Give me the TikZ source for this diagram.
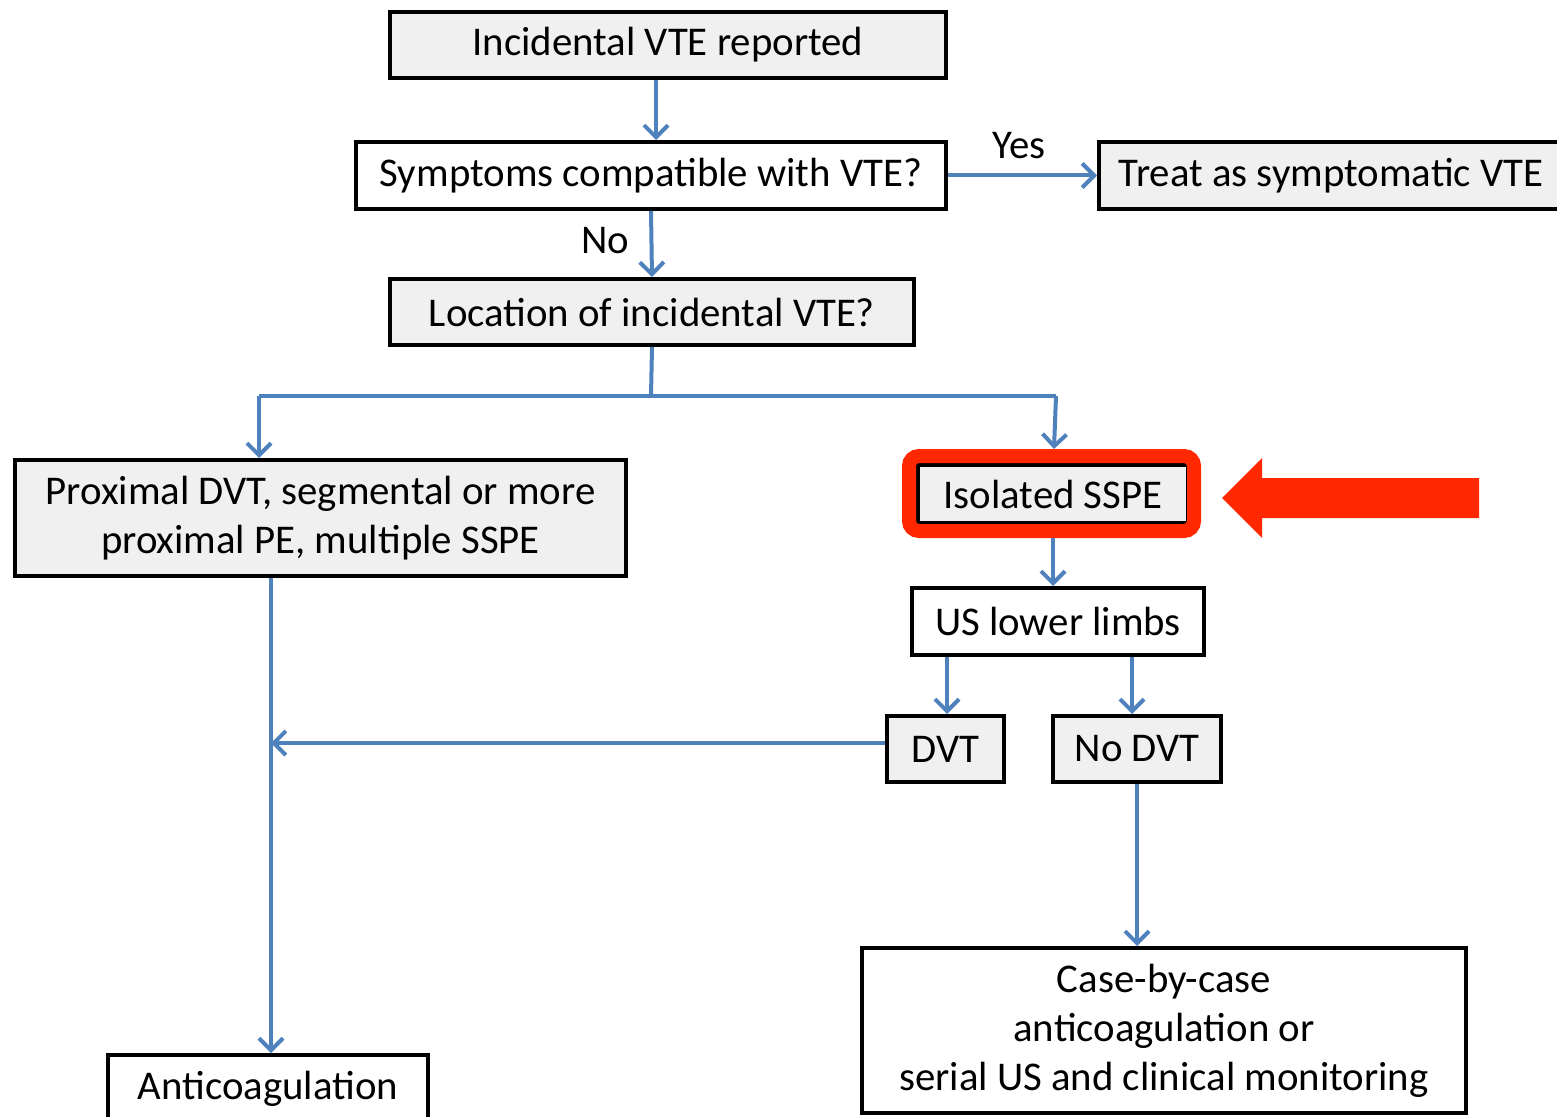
\documentclass[tikz,border=0pt]{standalone}
\usepackage{fontspec}
\setmainfont{Carlito}
\usetikzlibrary{arrows.meta}
\definecolor{boxgrey}{RGB}{240,240,240}
\definecolor{connblue}{RGB}{79,129,189}
\definecolor{hlred}{RGB}{255,40,0}
\tikzset{
  box/.style={draw=black, line width=2pt, inner sep=0pt, align=center,
    font=\fontsize{20.4}{24.5}\selectfont},
  greybox/.style={box, fill=boxgrey},
  whitebox/.style={box, fill=white},
  conn/.style={draw=connblue, line width=2pt},
  arr/.style={conn, -{Straight Barb[length=6pt,width=12pt,line width=2pt]}},
  lbl/.style={font=\fontsize{20.4}{24.5}\selectfont, inner sep=0pt},
}
\begin{document}
\begin{tikzpicture}[x=0.5pt,y=-0.5pt]
\useasboundingbox (0,0) rectangle (1557,1117);
\begin{scope}
\clip (0,0) rectangle (1557,1117);
\node[greybox, minimum width=278pt, minimum height=33pt] (inc) at (668,45) {Incidental VTE reported};
\node[whitebox, minimum width=295pt, minimum height=33.5pt] (sym) at (651,175.5) {Symptoms compatible with VTE?};
\node[greybox, minimum width=232pt, minimum height=33.5pt] (treat) at (1331,175.5) {Treat as symptomatic VTE};
\node[greybox, minimum width=262pt, minimum height=33pt] (loc) at (652,312) {Location of incidental VTE?};
\node[greybox, minimum width=305.5pt, minimum height=58pt] (prox) at (320.5,518) {Proximal DVT, segmental or more\\proximal PE, multiple SSPE};
\node[greybox, minimum width=135pt, minimum height=29pt] (iso) at (1053,494) {Isolated SSPE};
\node[draw=hlred, line width=7pt, rounded corners=5pt, minimum width=142.5pt, minimum height=37.5pt, inner sep=0pt] (hl) at (1051.5,493.5) {};
\node[whitebox, minimum width=146pt, minimum height=33.5pt] (us) at (1058,621.5) {US lower limbs};
\node[greybox, minimum width=58.5pt, minimum height=33pt] (dvt) at (945.5,749) {DVT};
\node[greybox, minimum width=84pt, minimum height=33pt] (nodvt) at (1137,749) {No DVT};
\node[whitebox, minimum width=302pt, minimum height=82.5pt] (case) at (1164,1030.5) {Case-by-case\\anticoagulation or\\serial US and clinical monitoring};
\node[whitebox, minimum width=160pt, minimum height=34pt] (anti) at (268,1089) {Anticoagulation};
\end{scope}
% red highlight arrow
\fill[hlred] (1222,498) -- (1262,458) -- (1262,478) -- (1479,478) -- (1479,518) -- (1262,518) -- (1262,538) -- cycle;
% connectors
\draw[arr] (inc.south -| 656,0) -- (sym.north -| 656,0);
\draw[arr] (sym.south) -- (loc.north);
\node[lbl] (no) at (605,241) {No};
\draw[arr] (sym.east) -- (treat.west);
\node[lbl] (yes) at (1019,146) {Yes};
\coordinate (jn) at (651,396);
\coordinate (jl) at (259,396);
\coordinate (jr) at (1056,396);
\draw[conn] (loc.south) -- (jn);
\draw[conn] (jl) -- (jr);
\draw[arr] (jl) -- (jl |- prox.north);
\draw[arr] (jr) -- (hl.north -| 1054,0);
\draw[arr] (hl.south -| 1053,0) -- (us.north -| 1053,0);
\draw[arr] (us.south -| 947,0) -- (dvt.north -| 947,0);
\draw[arr] (us.south -| 1132,0) -- (nodvt.north -| 1132,0);
\coordinate (pa) at (271,743);
\draw[arr] (prox.south -| pa) -- (anti.north -| pa);
\draw[arr] (dvt.west |- pa) -- (pa);
\draw[arr] (nodvt.south -| 1137,0) -- (case.north -| 1137,0);
\end{tikzpicture}
\end{document}
